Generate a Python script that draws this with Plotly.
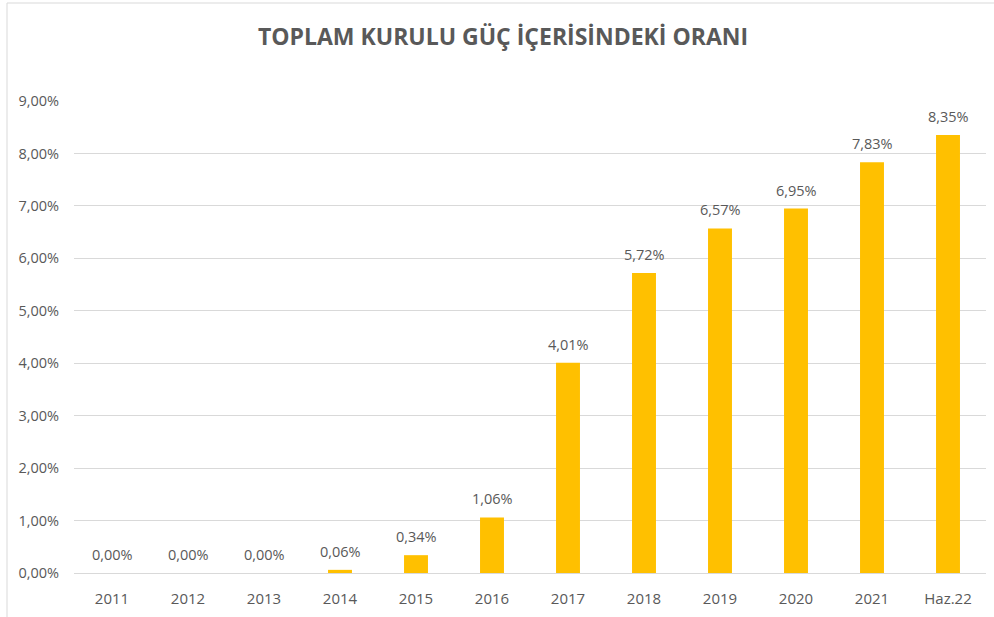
import plotly.graph_objects as go

categories = ["2011", "2012", "2013", "2014", "2015", "2016", "2017", "2018", "2019", "2020", "2021", "Haz.22"]
values = [0.0000, 0.0000, 0.0000, 0.0006, 0.0034, 0.0106, 0.0401, 0.0572, 0.0657, 0.0695, 0.0783, 0.0835]
y_ticks = [0.00, 0.01, 0.02, 0.03, 0.04, 0.05, 0.06, 0.07, 0.08, 0.09]

def pct(v):
    return f"{v*100:.2f}%".replace(".", ",")

W, H = 994, 617
L, R, T, B = 74, 8, 101, 44
pw, ph = W - L - R, H - T - B

FONT = "Open Sans"
TXT = "#595959"

fig = go.Figure(go.Bar(
    x=categories, y=values,
    marker=dict(color="#FFC000", line=dict(width=0)),
    width=0.315,
    hoverinfo="skip",
))

annotations = [
    dict(x=i, y=v, xref="x", yref="y", text=pct(v), showarrow=False,
         yanchor="bottom", yshift=7, font=dict(family=FONT, size=14.5, color=TXT))
    for i, v in enumerate(values)
]

fig.update_layout(
    width=W, height=H,
    margin=dict(l=L, r=R, t=T, b=B),
    paper_bgcolor="white", plot_bgcolor="white",
    showlegend=False,
    annotations=annotations,
    title=dict(text="<b>TOPLAM KURULU GÜÇ İÇERİSİNDEKİ ORANI</b>",
               x=(503) / W, xanchor="center", y=1 - 37 / H, yanchor="middle",
               font=dict(family=FONT, size=23, color=TXT)),
    xaxis=dict(type="category", categoryorder="array", categoryarray=categories,
               range=[-0.5, len(categories) - 0.5],
               tickfont=dict(family=FONT, size=15, color=TXT),
               showgrid=False, showline=True, linecolor="#D9D9D9", linewidth=1,
               ticks="", ticklabelstandoff=12, fixedrange=True),
    yaxis=dict(range=[0, 0.09], tickvals=y_ticks, ticktext=[pct(v) for v in y_ticks],
               tickfont=dict(family=FONT, size=14.5, color=TXT),
               showgrid=True, gridcolor="#D9D9D9", gridwidth=1, zeroline=False,
               showline=False, ticks="", ticklabelstandoff=14, fixedrange=True),
    shapes=[dict(type="rect", xref="paper", yref="paper",
                 x0=(7 - L) / pw, x1=(W + 10 - L) / pw,
                 y0=(H - B - (H + 10)) / ph, y1=(H - B - 3) / ph,
                 line=dict(color="#D9D9D9", width=1), fillcolor="rgba(0,0,0,0)", layer="below")],
)

fig.write_html("out.html")
